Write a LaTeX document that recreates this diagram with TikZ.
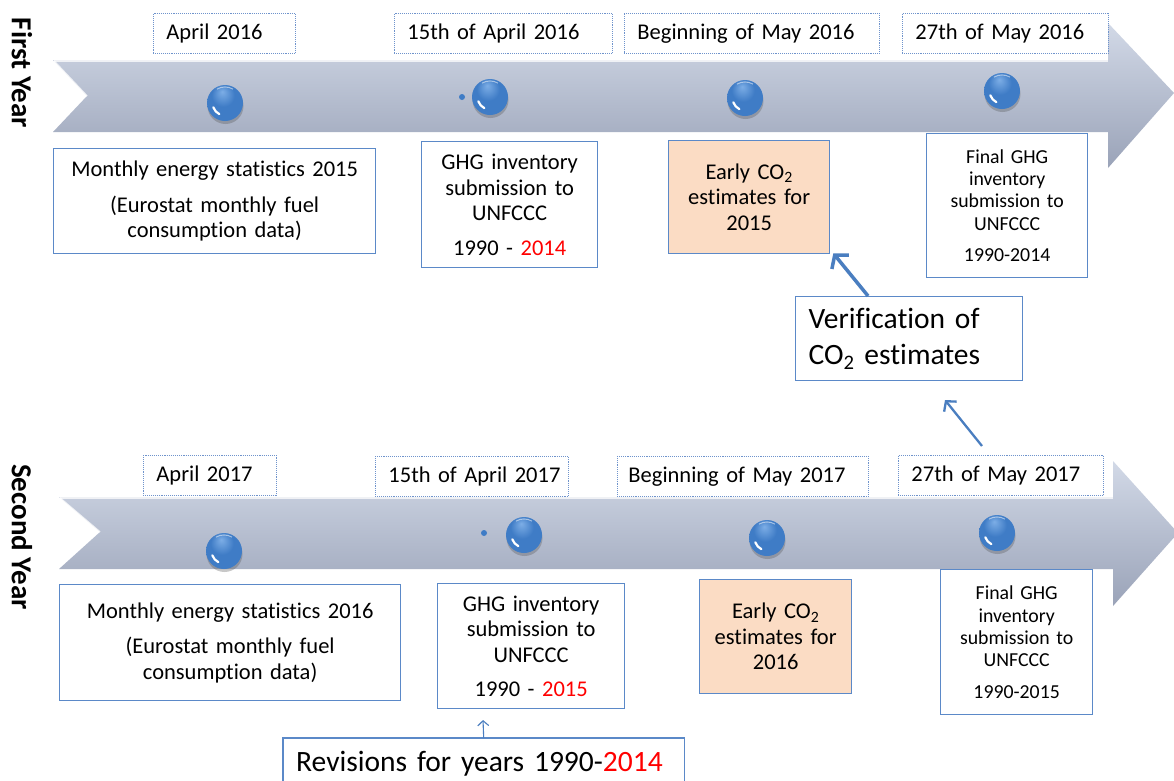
\documentclass[tikz,border=0pt]{standalone}
\usepackage{fontspec}
\setmainfont{Carlito}[Ligatures=NoCommon]
\usetikzlibrary{arrows.meta,shadows,calc}
\definecolor{boxblue}{HTML}{5B89C8}
\definecolor{dotblue}{HTML}{6F93CC}
\definecolor{arrblue}{HTML}{4A7EC0}
\definecolor{peach}{HTML}{FBDCC4}
\definecolor{bartop}{HTML}{D2D9E7}
\definecolor{barbot}{HTML}{9AA3B8}
\definecolor{sphhi}{HTML}{7DAEE6}
\definecolor{sphmid}{HTML}{3F7CC6}
\definecolor{sphdk}{HTML}{2A5B9D}
\definecolor{redtxt}{HTML}{FF0000}
\pgfdeclareradialshading{sph}{\pgfpoint{-4bp}{16bp}}{color(0bp)=(sphhi); color(16bp)=(sphmid); color(34bp)=(sphmid); color(46bp)=(sphdk); color(50bp)=(sphdk)}
\tikzset{
  every node/.style={inner sep=0pt},
  datebox/.style={draw=dotblue, densely dotted, line width=0.9pt, fill=white, anchor=north west,
    minimum height=40pt, inner xsep=13pt, align=left, font=\fontsize{22.5}{26}\selectfont},
  infobox/.style={draw=boxblue, line width=1.3pt, fill=white, anchor=north west, align=center,
    font=\fontsize{22.5}{25.5}\selectfont},
  finalbox/.style={infobox, font=\fontsize{19.8}{22.3}\selectfont},
  estbox/.style={infobox, fill=peach},
  bigbox/.style={draw=boxblue, line width=1.3pt, fill=white, anchor=north west, align=left,
    inner xsep=13pt, font=\fontsize{29.5}{36}\selectfont},
  yearlabel/.style={rotate=-90, font=\fontsize{29}{34}\selectfont\bfseries},
  sphere/.style={circle, minimum size=36pt, shading=sph,
    drop shadow={shadow xshift=0.5pt, shadow yshift=-3pt, opacity=0.3, fill=black!70},
    path picture={\draw[white, line width=2.2pt, line cap=round]
      ($(path picture bounding box.center)+(-11.7pt,-4.3pt)$) arc[start angle=200, end angle=243, radius=12.5pt];
      \draw[white, opacity=0.5, line width=1pt]
      ($(path picture bounding box.center)+(8pt,13.9pt)$) arc[start angle=60, end angle=120, radius=16pt];}},
  tinydot/.style={circle, minimum size=6pt, fill=sphmid},
  timebar/.style={top color=bartop, bottom color=barbot, draw=none},
  barshine/.style={white, opacity=0.75, line width=1.6pt},
  bigarrow/.style={draw=arrblue, line width=3.5pt, -{Straight Barb[length=9pt,width=22pt]}},
  midarrow/.style={draw=arrblue, line width=2.3pt, -{Straight Barb[length=7pt,width=16pt]}},
  thinarrow/.style={draw=arrblue, line width=1.1pt, -{Straight Barb[length=5pt,width=11pt]}},
  openbox/.style={draw=boxblue, line width=1.3pt}
}
\begin{document}
\begin{tikzpicture}[x=1pt,y=-1pt]
\useasboundingbox (0,0) rectangle (1174,780);
\fill[white] (0,0) rectangle (1174,780);

% time bars
\shade[timebar] (53,60) -- (1108,60) -- (1108,23) -- (1174,93) -- (1108,168) -- (1108,132)
  -- (53,132) -- (87,96) -- cycle;
\draw[barshine] (54,61) -- (1108,61);
\draw[barshine] (54,61) -- (87,96);
\shade[timebar] (59,497) -- (1113,497) -- (1113,461) -- (1178,533) -- (1113,606) -- (1113,569)
  -- (59,569) -- (100,532) -- cycle;
\draw[barshine] (60,498) -- (1113,498);
\draw[barshine] (60,498) -- (100,532);

% year labels
\node[yearlabel] (y1) at (22,73) {First Year};
\node[yearlabel] (y2) at (22,537) {Second Year};

% spheres first year
\node[sphere] (s11) at (225,103) {};
\node[tinydot] (t12) at (462,97) {};
\node[sphere] (s12) at (490,97) {};
\node[sphere] (s13) at (745,98) {};
\node[sphere] (s14) at (1002,91) {};
% spheres second year
\node[sphere] (s21) at (224,551) {};
\node[tinydot] (t22) at (484,533) {};
\node[sphere] (s22) at (524,535) {};
\node[sphere] (s23) at (767,538) {};
\node[sphere] (s24) at (997,533) {};

% date boxes first year
\node[datebox, text width=116pt] (d11) at (153,13) {\mbox{April 2016}};
\node[datebox, text width=192pt] (d12) at (394,13) {\mbox{15th of April 2016}};
\node[datebox, text width=229pt] (d13) at (624,13) {\mbox{Beginning of May 2016}};
\node[datebox, text width=180pt] (d14) at (902,13) {\mbox{27th of May 2016}};
% date boxes second year
\node[datebox, text width=107pt] (d21) at (143,455) {\mbox{April 2017}};
\node[datebox, text width=167pt] (d22) at (375,456) {\mbox{15th of April 2017}};
\node[datebox, text width=229pt, inner xsep=11pt] (d23) at (617,456) {\mbox{Beginning of May 2017}};
\node[datebox, text width=179pt] (d24) at (898,455) {\mbox{27th of May 2017}};

% info boxes first year
\node[infobox, text width=322pt, minimum height=105pt] (m1) at (53,148)
  {Monthly energy statistics 2015\\[10pt](Eurostat monthly fuel\\consumption data)\\[4pt]};
\node[infobox, text width=176pt, minimum height=126pt] (g1) at (421,141)
  {GHG inventory\\submission to\\UNFCCC\\[9pt]1990 - \textcolor{redtxt}{2014}};
\node[estbox, text width=161pt, minimum height=113pt] (e1) at (668,140)
  {Early CO\textsubscript{2}\\estimates for\\2015};
\node[finalbox, text width=161pt, minimum height=144pt] (f1) at (926,133)
  {Final GHG\\inventory\\submission to\\UNFCCC\\[9pt]1990-2014};
\node[bigbox, text width=201pt, minimum height=84pt] (ver) at (795,296)
  {Verification of\\CO\textsubscript{2} estimates};

% info boxes second year
\node[infobox, text width=341pt, minimum height=116pt] (m2) at (59,584)
  {Monthly energy statistics 2016\\[10pt](Eurostat monthly fuel\\consumption data)};
\node[infobox, text width=187pt, minimum height=125pt] (g2) at (437,583)
  {GHG inventory\\submission to\\UNFCCC\\[9pt]1990 - \textcolor{redtxt}{2015}};
\node[estbox, text width=152pt, minimum height=114pt] (e2) at (699,579)
  {Early CO\textsubscript{2}\\estimates for\\2016};
\node[finalbox, text width=152pt, minimum height=145pt] (f2) at (940,569)
  {Final GHG\\inventory\\submission to\\UNFCCC\\[9pt]1990-2015};

% revisions box (open at the bottom edge)
\node[anchor=north west, text width=375pt, minimum height=52pt, align=left, inner xsep=13pt,
  font=\fontsize{29.5}{36}\selectfont] (rev) at (283,738)
  {Revisions for years 1990-\textcolor{redtxt}{2014}};
\draw[openbox] (rev.south west) -- (rev.north west) -- (rev.north east) -- (rev.south east);

% connectors
\draw[bigarrow] ($(ver.north west)!0.32!(ver.north east)$) -- ([xshift=3pt,yshift=1pt]e1.south east);
\coordinate (a2tail) at (982,446);
\coordinate (a2tip) at (945,400);
\draw[midarrow] (a2tail) -- (a2tip);
\coordinate (revtip) at (483,720);
\draw[thinarrow] (rev.north) -- (revtip);
\end{tikzpicture}
\end{document}
